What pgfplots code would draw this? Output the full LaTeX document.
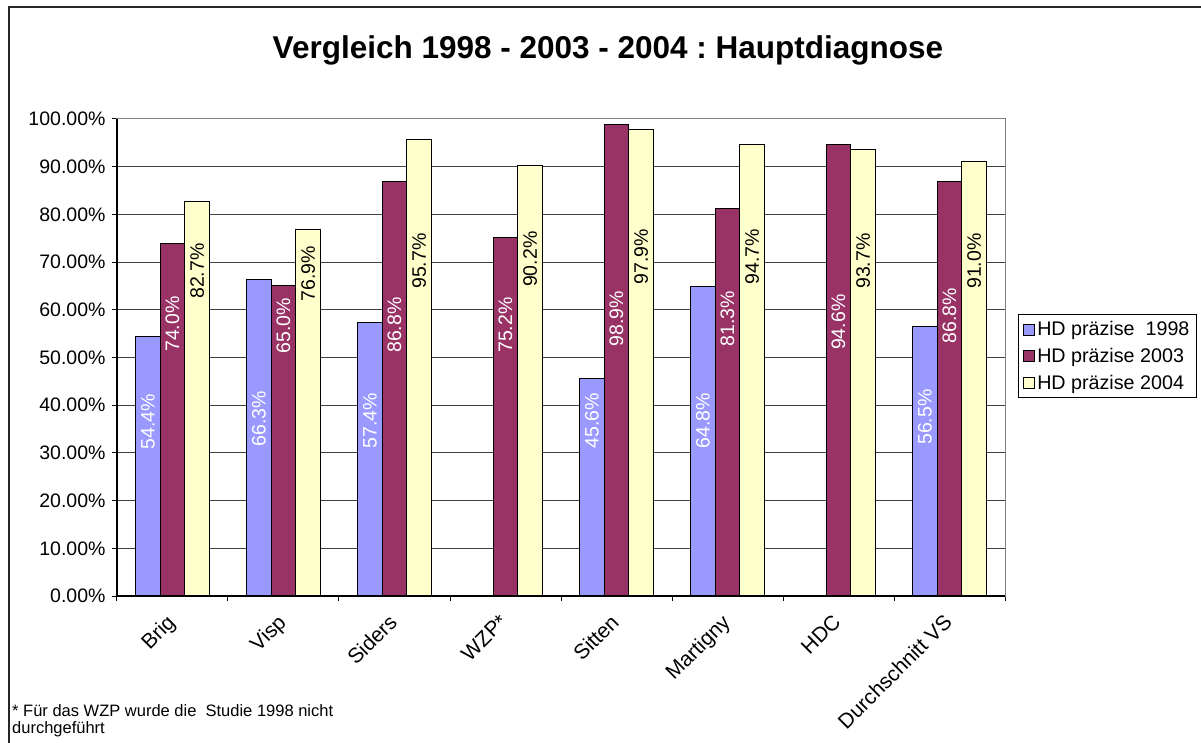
\documentclass[border=0pt]{standalone}
\usepackage{fontspec}
\setmainfont{Liberation Sans}
\usepackage{pgfplots}
\usepackage{pgfplotstable}
\pgfplotsset{compat=1.18}
\frenchspacing

\definecolor{c98}{HTML}{9999FF}
\definecolor{c03}{HTML}{993366}
\definecolor{c04}{HTML}{FFFFCC}

% values in %, la/lb/lc = height of the value labels
\pgfplotstableread{
x a    b    c    la   lb   lc
0 54.4 74.0 82.7 36.5 57.0 68.1
1 66.3 65.0 76.9 37.1 56.6 67.5
2 57.4 86.8 95.7 36.7 56.8 70.2
3 nan  75.2 90.2 nan  56.8 70.6
4 45.6 98.9 97.9 36.7 58.1 71.1
5 64.8 81.3 94.7 36.7 58.1 71.1
6 nan  94.6 93.7 nan  57.4 70.2
7 56.5 86.8 91.0 37.5 58.7 70.2
}\hd

\begin{document}
\begin{tikzpicture}
\path[use as bounding box] (-117pt,-146pt) rectangle (1084pt,596pt);
\draw[line width=1.2pt, black!85] (-108pt,-150pt) -- (-108pt,589pt) -- (1090pt,589pt);
\begin{axis}[
  at={(0,0)}, anchor=south west,
  scale only axis, width=888pt, height=477pt,
  xmin=-0.5, xmax=7.5, ymin=0, ymax=100,
  xtick={-0.5,0.5,...,7.5}, x tick label as interval,
  xticklabels={Brig,Visp,Siders,WZP*,Sitten,Martigny,HDC,Durchschnitt VS},
  xticklabel style={rotate=45, anchor=north east, xshift=-10pt, yshift=0pt,
    font=\fontsize{21}{24}\selectfont},
  ytick={0,10,...,100},
  yticklabels={0.00\%,10.00\%,20.00\%,30.00\%,40.00\%,50.00\%,60.00\%,70.00\%,80.00\%,90.00\%,100.00\%},
  yticklabel style={font=\fontsize{19.5}{22}\selectfont, xshift=-3pt},
  tick pos=left, tick align=outside, major tick length=5pt,
  tick style={black, line width=1pt},
  ymajorgrids, grid style={black!75, line width=1pt},
  axis line style={black!50, line width=1pt},
  clip=false,
  legend style={at={(rel axis cs:1.0146,0.591)}, anchor=north west,
    draw=black, line width=1pt, font=\fontsize{19.7}{22}\selectfont,
    inner xsep=5pt, inner ysep=5pt, row sep=7pt, cells={anchor=west}},
  legend image code/.code={\draw[#1, draw=black, line width=0.8pt] (0pt,-5.5pt) rectangle (11pt,5.5pt);},
]
\addplot[ybar, bar width=0.222, bar shift=-0.222, fill=c98, draw=black, line width=1pt] table[x=x, y=a] {\hd};
\addlegendentry{HD präzise\ \ 1998}
\addplot[ybar, bar width=0.222, bar shift=0, fill=c03, draw=black, line width=1pt] table[x=x, y=b] {\hd};
\addlegendentry{HD präzise 2003}
\addplot[ybar, bar width=0.222, bar shift=0.222, fill=c04, draw=black, line width=1pt] table[x=x, y=c] {\hd};
\addlegendentry{HD präzise 2004}

\pgfplotsset{vlabel/.style={draw=none, forget plot, point meta=explicit symbolic,
  nodes near coords={\pgfplotspointmeta\%}, nodes near coords align=center,
  every node near coord/.append style={rotate=90, anchor=center, inner sep=0pt,
    font=\fontsize{19.5}{22}\selectfont, text=#1}}}
\addplot[vlabel=white] table[x expr=\thisrow{x}-0.222, y=la, meta=a] {\hd};
\addplot[vlabel=white] table[x=x, y=lb, meta=b] {\hd};
\addplot[vlabel=black] table[x expr=\thisrow{x}+0.222, y=lc, meta=c] {\hd};

\draw[black, line width=1.2pt] (rel axis cs:0,1) -- (rel axis cs:0,0) -- (rel axis cs:1,0);
\end{axis}
\node[font=\bfseries\fontsize{31.5}{36}\selectfont] at (491pt,546pt) {Vergleich 1998 - 2003 - 2004 : Hauptdiagnose};
\node[anchor=base west, inner sep=0pt, font=\fontsize{16.5}{20}\selectfont] at (-105pt,-120pt) {* Für das WZP wurde die\ \ Studie 1998 nicht};
\node[anchor=base west, inner sep=0pt, font=\fontsize{16.5}{20}\selectfont] at (-105pt,-137pt) {durchgeführt};
\end{tikzpicture}
\end{document}
